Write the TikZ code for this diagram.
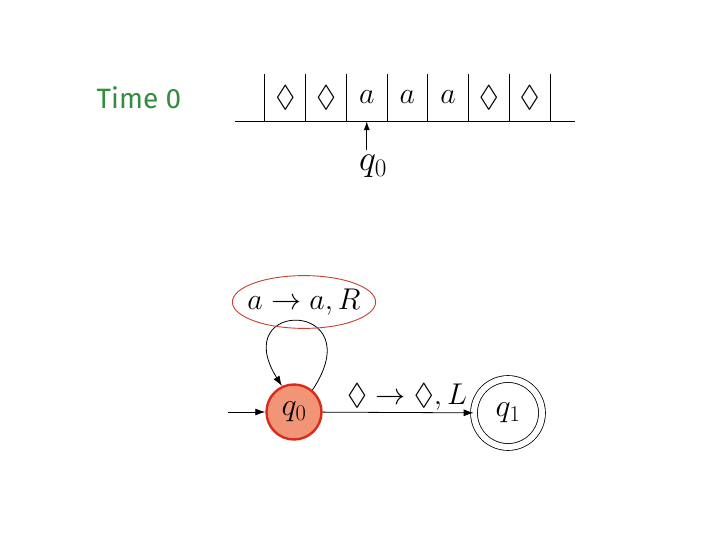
\RequirePackage{fix-cm}
\documentclass[tikz,border=0pt]{standalone}
\usepackage{amsmath,amssymb}
\DeclareFontFamily{U}{msa}{}
\DeclareFontShape{U}{msa}{m}{n}{<->msam10}{}
\usepackage{fontspec}
\newfontfamily\timefont{Fira Sans}
\usetikzlibrary{arrows.meta,positioning,shapes.geometric}
\definecolor{timegreen}{RGB}{52,140,62}
\definecolor{qfill}{RGB}{242,148,118}
\definecolor{qdraw}{RGB}{218,42,28}
\definecolor{lblred}{RGB}{196,64,48}
\newcommand{\bigtxt}{\fontsize{30}{34}\selectfont}
\tikzset{
  cell/.style={rectangle, minimum width=40.7pt, minimum height=47pt, inner sep=0pt, font=\bigtxt},
  qnode/.style={circle, draw=qdraw, line width=2.4pt, fill=qfill, minimum size=55pt, inner sep=0pt, font=\fontsize{32}{36}\selectfont},
  fnode/.style={circle, draw, double, double distance=6pt, line width=0.8pt, minimum size=68pt, inner sep=0pt, font=\fontsize{32}{36}\selectfont},
  arr/.style={-{Latex[length=10pt,width=7pt]}, line width=0.8pt},
  lbl/.style={font=\bigtxt, inner sep=2pt},
  oval/.style={ellipse, draw=lblred, line width=0.9pt, inner xsep=-6pt, inner ysep=5.5pt, font=\bigtxt},
}
\begin{document}
\begin{tikzpicture}[x=1pt, y=-1pt, node distance=3mm]
\useasboundingbox (0,0) rectangle (720,540);
% tape at time 0
\node[font=\timefont\fontsize{28}{32}\selectfont, text=timegreen] (time) at (139,98) {Time 0};
\foreach \s [count=\i] in {\lozenge,\lozenge,a,a,a,\lozenge,\lozenge}
  \node[cell] (c\i) at ({265+40.7*(\i-0.5)},97.5) {$\s$};
\coordinate (tl) at (235,121);
\coordinate (tr) at (575,121);
\draw[line width=0.8pt] (tl) -- (tr);
\foreach \i in {1,...,7} \draw[line width=0.8pt] (c\i.north west) -- (c\i.south west);
\draw[line width=0.8pt] (c7.north east) -- (c7.south east);
\node[font=\fontsize{36}{40}\selectfont, inner sep=0pt, anchor=north] (head) at (373,155) {$q_0$};
\draw[-{Latex[length=9pt,width=6pt]}, line width=0.8pt] (c3.south |- 0,150) -- (c3.south);
% machine
\node[qnode] (q0) at (294,412) {$q_0$};
\node[fnode] (q1) at (508,413) {$q_1$};
\coordinate (start) at (228,412);
\draw[arr] (start) -- (q0);
\draw[arr] (q0) -- node[lbl, above=0pt, xshift=9pt] (el) {$\lozenge\rightarrow\lozenge,L$} (q1);
\draw[arr] (q0.50) .. controls +(60,-90) and +(-55,-88) .. (q0.115);
\node[oval] (loop) at (304,302) {$a\rightarrow a,R$};
\end{tikzpicture}
\end{document}
